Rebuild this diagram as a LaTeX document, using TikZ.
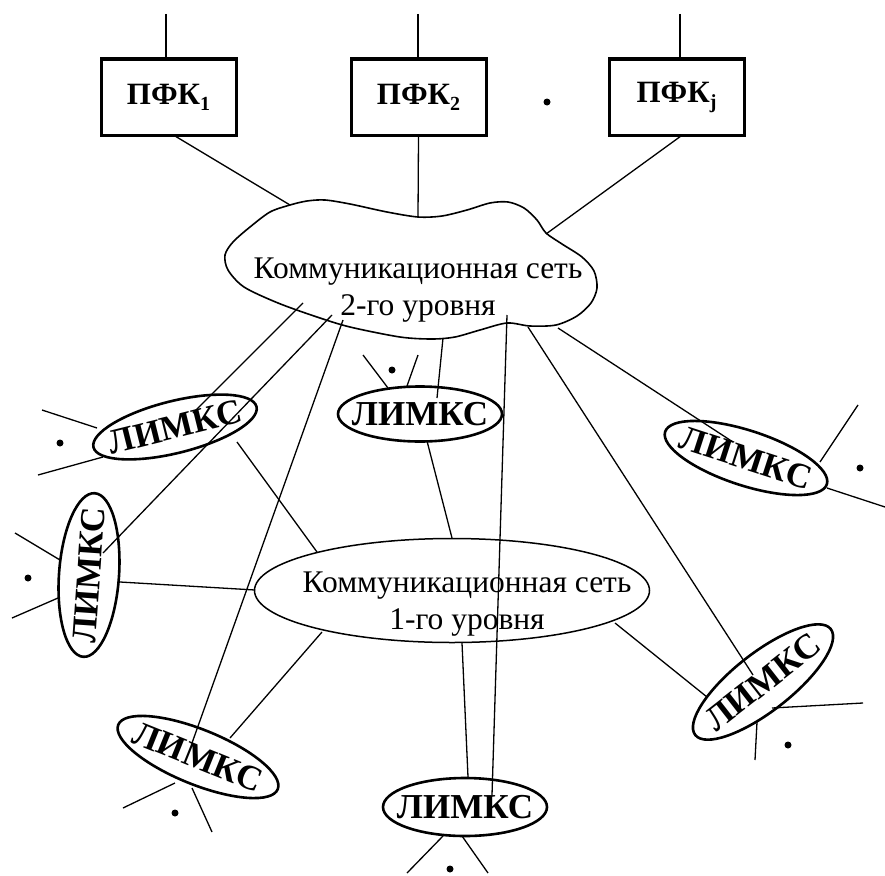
\documentclass[tikz,border=0pt]{standalone}
\usepackage{fontspec}
\setmainfont{Liberation Serif}
\usetikzlibrary{shapes.geometric}
\newcommand{\sbx}[1]{\raisebox{-6pt}{\fontsize{20}{20}\selectfont #1}}
\newcommand{\limtxt}{\makebox[0pt]{ЛИМКС}}
\begin{document}
\begin{tikzpicture}[x=1pt,y=-1pt,
  conn/.style={line width=1.3pt},
  pfk/.style={draw, line width=3pt, minimum width=135pt, minimum height=76pt, inner sep=0pt,
    font=\fontsize{31}{31}\selectfont\bfseries},
  limks/.style={draw, ellipse, line width=2.6pt, inner sep=0pt,
    font=\fontsize{35}{35}\selectfont\bfseries},
  net/.style={font=\fontsize{31.5}{37}\selectfont, align=center, inner sep=0pt},
  blob/.style={line width=1.6pt},
  dotm/.style={fill, circle, inner sep=0pt, minimum size=7pt}]
\useasboundingbox (0,0) rectangle (885,875);

% PFK boxes
\node[pfk] (p1) at (168.5,97) {ПФК\sbx{1}};
\node[pfk] (p2) at (418.5,97) {ПФК\sbx{2}};
\node[pfk] (p3) at (676.5,97) {ПФК\sbx{j}};
\node[dotm] (dtop) at (547,102) {};
\coordinate (t1) at (166,14);
\coordinate (t2) at (418,14);
\coordinate (t3) at (680,14);
\draw[conn] (t1) -- (t1 |- p1.north);
\draw[conn] (t2) -- (t2 |- p2.north);
\draw[conn] (t3) -- (t3 |- p3.north);

% level-2 cloud
\draw[blob] plot[smooth cycle] coordinates {
 (290,205) (307,201) (325,200) (350,204) (387,212) (418,217) (442,216) (467,210)
 (490,203) (508,202) (524,208) (537,220) (546,233) (562,244) (582,257) (594,271)
 (597,288) (591,303) (577,316) (556,325) (530,326) (507,323) (480,330) (455,337)
 (432,339) (400,337) (350,327) (317,317) (278,303) (244,287) (228,270) (225,255)
 (233,242) (250,227) (270,212)};
\node[net] (C2) at (418,290) {Коммуникационная сеть\\2-го уровня};

% level-1 ellipse
\node[draw, ellipse, line width=1.5pt, minimum width=395pt, minimum height=104pt, inner sep=0pt] (C1) at (452,590.5) {};
\node[net] (C1t) at (467,604) {Коммуникационная сеть\\1-го уровня};

% LIMKS nodes
\node[limks, minimum width=168pt, minimum height=52pt, rotate=14] (L1) at (175,427) {\limtxt};
\node[limks, minimum width=164pt, minimum height=60pt, rotate=86] (L2) at (89,575) {\limtxt};
\node[limks, minimum width=172pt, minimum height=55pt, rotate=-22] (L3) at (198,757) {\limtxt};
\node[limks, minimum width=164pt, minimum height=55pt] (L4) at (420,414) {\limtxt};
\node[limks, minimum width=164pt, minimum height=58pt] (L5) at (465,807) {\limtxt};
\node[limks, minimum width=172pt, minimum height=58pt, rotate=38] (L6) at (763,682) {\limtxt};
\node[limks, minimum width=170pt, minimum height=55pt, rotate=-18] (L7) at (746,458) {\limtxt};

% box to cloud
\coordinate (p1b) at (175,136);
\coordinate (p3b) at (681,136);
\coordinate (k1) at (290,205);
\coordinate (k2) at (418,217);
\coordinate (k3) at (546,234);
\draw[conn] (p1b) -- (k1);
\draw[conn] (p2.south) -- (k2);
\draw[conn] (p3b) -- (k3);

% cloud to LIMKS
\coordinate (ca) at (303,303);  \coordinate (ea) at (193,413);
\coordinate (cb) at (332,315);  \coordinate (eb) at (103,553);
\coordinate (cc) at (343,320);  \coordinate (ec) at (192,743);
\coordinate (cd) at (443,338);  \coordinate (ed) at (437,398);
\coordinate (ce) at (507,315);  \coordinate (ee) at (492,795);
\coordinate (cf) at (528,327);  \coordinate (ef) at (753,675);
\coordinate (cg) at (558,328);  \coordinate (eg) at (733,442);
\draw[conn] (ca) -- (ea);
\draw[conn] (cb) -- (eb);
\draw[conn] (cc) -- (ec);
\draw[conn] (cd) -- (ed);
\draw[conn] (ce) -- (ee);
\draw[conn] (cf) -- (ef);
\draw[conn] (cg) -- (eg);

% LIMKS to level-1
\coordinate (m1a) at (237,442); \coordinate (m1b) at (317,552);
\coordinate (m2a) at (120,582); \coordinate (m2b) at (255,590);
\coordinate (m3a) at (230,738); \coordinate (m3b) at (322,632);
\coordinate (m4a) at (427,441); \coordinate (m4b) at (452,538);
\coordinate (m5a) at (468,777); \coordinate (m5b) at (462,643);
\coordinate (m6a) at (707,697); \coordinate (m6b) at (615,623);
\draw[conn] (m1a) -- (m1b);
\draw[conn] (m2a) -- (m2b);
\draw[conn] (m3a) -- (m3b);
\draw[conn] (m4a) -- (m4b);
\draw[conn] (m5a) -- (m5b);
\draw[conn] (m6a) -- (m6b);

% outer stubs and dots
\coordinate (s1a) at (42,410);  \coordinate (s1b) at (97,428);
\coordinate (s1c) at (38,475);  \coordinate (s1d) at (103,457);
\node[dotm] (d1) at (60,443) {};
\coordinate (s2a) at (15,533);  \coordinate (s2b) at (60,560);
\coordinate (s2c) at (12,618);  \coordinate (s2d) at (58,598);
\node[dotm] (d2) at (28,578) {};
\coordinate (s3a) at (123,808); \coordinate (s3b) at (175,783);
\coordinate (s3c) at (212,832); \coordinate (s3d) at (192,788);
\node[dotm] (d3) at (175,813) {};
\coordinate (s4a) at (363,355); \coordinate (s4b) at (388,388);
\coordinate (s4c) at (418,355); \coordinate (s4d) at (407,386);
\node[dotm] (d4) at (392,370) {};
\coordinate (s5a) at (407,873); \coordinate (s5b) at (443,836);
\coordinate (s5c) at (488,873); \coordinate (s5d) at (462,836);
\node[dotm] (d5) at (450,869) {};
\coordinate (s6a) at (863,703); \coordinate (s6b) at (772,708);
\coordinate (s6c) at (755,760); \coordinate (s6d) at (757,722);
\node[dotm] (d6) at (788,745) {};
\coordinate (s7a) at (858,405); \coordinate (s7b) at (820,462);
\coordinate (s7c) at (885,507); \coordinate (s7d) at (827,488);
\node[dotm] (d7) at (860,468) {};
\draw[conn] (s1a) -- (s1b);
\draw[conn] (s1c) -- (s1d);
\draw[conn] (s2a) -- (s2b);
\draw[conn] (s2c) -- (s2d);
\draw[conn] (s3a) -- (s3b);
\draw[conn] (s3c) -- (s3d);
\draw[conn] (s4a) -- (s4b);
\draw[conn] (s4c) -- (s4d);
\draw[conn] (s5a) -- (s5b);
\draw[conn] (s5c) -- (s5d);
\draw[conn] (s6a) -- (s6b);
\draw[conn] (s6c) -- (s6d);
\draw[conn] (s7a) -- (s7b);
\draw[conn] (s7c) -- (s7d);
\end{tikzpicture}
\end{document}
